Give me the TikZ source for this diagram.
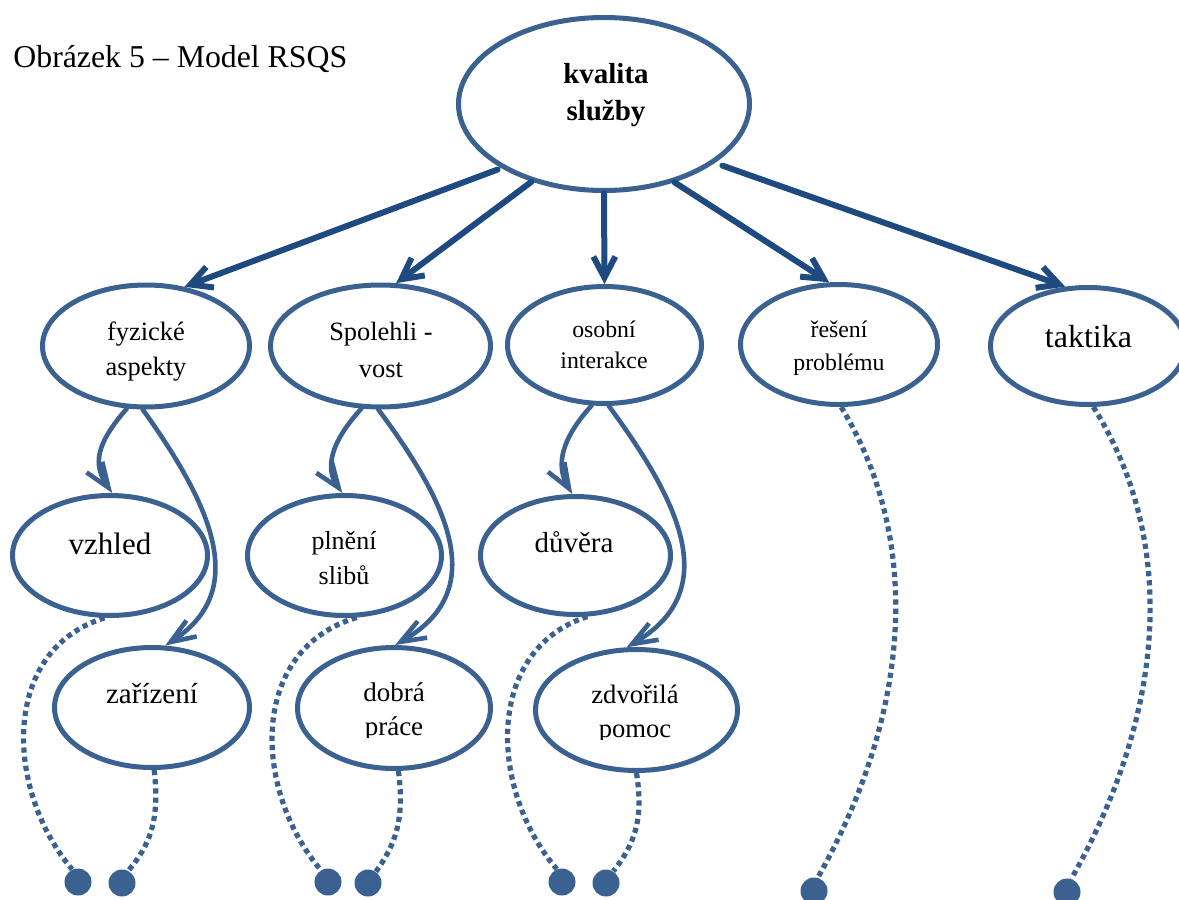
\documentclass[tikz,border=0pt]{standalone}
\usepackage{fontspec}
\setmainfont{Liberation Serif}
\usetikzlibrary{shapes.geometric,arrows.meta}
\definecolor{rim}{HTML}{3B6190}
\definecolor{navy}{HTML}{1F4A80}
\begin{document}
\begin{tikzpicture}[x=0.5pt,y=-0.5pt,
  bubble/.style={ellipse,draw=rim,line width=2.5pt,inner sep=0pt,fill=white},
  txt/.style={anchor=base,align=center,inner sep=0pt,text=black},
  mainarrow/.style={draw=navy,line width=3pt,line cap=round,
    -{Straight Barb[length=10.5pt,width=11pt]}},
  subarrow/.style={draw=rim,line width=2.3pt,line cap=round,
    -{Straight Barb[length=12.5pt,width=9.5pt]}},
  dotline/.style={draw=rim,line width=2.6pt,dash pattern=on 2.6pt off 2pt},
  endpt/.style={circle,fill=rim,inner sep=0pt,minimum size=13.5pt},
]
\useasboundingbox (0,0) rectangle (1179,900);

% heading
\node[anchor=base west,inner sep=0pt,font={\fontsize{15.9}{18}\selectfont}]
  (title) at (13,67) {Obrázek 5 – Model RSQS};

% ellipses
\node[bubble,minimum width=145.5pt,minimum height=86.5pt] (top) at (604,104) {};
\node[bubble,minimum width=103.5pt,minimum height=61pt] (fyz) at (146,346) {};
\node[bubble,minimum width=110pt,minimum height=61pt] (spo) at (380.5,346) {};
\node[bubble,minimum width=97pt,minimum height=58.5pt] (oso) at (604.5,345) {};
\node[bubble,minimum width=98.5pt,minimum height=60pt] (res) at (839,344.5) {};
\node[bubble,minimum width=97.5pt,minimum height=58.5pt] (tak) at (1088,346) {};
\node[bubble,minimum width=97.5pt,minimum height=60pt] (vzh) at (110,555.5) {};
\node[bubble,minimum width=97pt,minimum height=60pt] (pln) at (344.5,555.5) {};
\node[bubble,minimum width=95pt,minimum height=59pt] (duv) at (575.5,555.5) {};
\node[bubble,minimum width=97.5pt,minimum height=60pt] (zar) at (152,707.5) {};
\node[bubble,minimum width=96.5pt,minimum height=60.5pt] (dob) at (394,708) {};
\node[bubble,minimum width=101pt,minimum height=60.5pt] (zdv) at (636.5,710) {};

% labels (two-line labels sit on the baseline of their last line)
\node[txt,font={\bfseries\fontsize{14.5}{18.5}\selectfont}] (ttop) at (606,120) {kvalita\\služby};
\node[txt,font={\fontsize{13.25}{17.5}\selectfont}] (tfyz) at (146,375) {fyzické\\aspekty};
\node[txt,font={\fontsize{13.2}{18.5}\selectfont}] (tspo) at (381,377) {Spolehli -\\vost};
\node[txt,font={\fontsize{11.9}{15.5}\selectfont}] (toso) at (604,368) {osobní\\interakce};
\node[txt,font={\fontsize{11.9}{16.5}\selectfont}] (tres) at (839,370) {řešení\\problému};
\node[txt,font={\fontsize{16}{19}\selectfont}] (ttak) at (1088.5,347) {taktika};
\node[txt,font={\fontsize{15.5}{19}\selectfont}] (tvzh) at (110,554) {vzhled};
\node[txt,font={\fontsize{13}{17.5}\selectfont}] (tpln) at (344,584) {plnění\\slibů};
\node[txt,font={\fontsize{14.5}{18}\selectfont}] (tduv) at (574,552) {důvěra};
\node[txt,font={\fontsize{14.5}{18}\selectfont}] (tzar) at (152,703) {zařízení};
\begin{scope}
  \clip (290,660) rectangle (500,737.5);
  \node[txt,font={\fontsize{13.5}{17}\selectfont}] (tdob) at (394,735) {dobrá\\práce};
\end{scope}
\begin{scope}
  \clip (530,660) rectangle (745,739.5);
  \node[txt,font={\fontsize{13.3}{17}\selectfont}] (tzdv) at (635,737) {zdvořilá\\pomoc};
\end{scope}

% end points
\node[endpt] (d1) at (78,882) {};
\node[endpt] (d2) at (122,883) {};
\node[endpt] (d3) at (328,882) {};
\node[endpt] (d4) at (368,883) {};
\node[endpt] (d5) at (562,882) {};
\node[endpt] (d6) at (606,883) {};
\node[endpt] (d7) at (814,891) {};
\node[endpt] (d8) at (1067,892) {};

% main arrows
\draw[mainarrow,shorten <=2pt] (top.212) -- (fyz.57);
\draw[mainarrow] (top.227) -- (spo.76);
\draw[mainarrow] (top.270) -- (oso.90);
\draw[mainarrow] (top.312) -- (res.99);
\draw[mainarrow,shorten <=4pt] (top.332) -- (tak.111);

% sub arrows
\draw[subarrow] (fyz.253) .. controls (95,445) and (93,465) .. (vzh.88);
\draw[subarrow] (fyz.267) .. controls (215,510) and (248,592) .. (zar.78);
\draw[subarrow] (spo.253) .. controls (328,445) and (326,470) .. (pln.92);
\draw[subarrow] (spo.268) .. controls (452,508) and (488,592) .. (dob.89);
\draw[subarrow] (oso.258) .. controls (562,438) and (555,465) .. (duv.93);
\draw[subarrow] (oso.274) .. controls (682,505) and (722,592) .. (zdv.99);

% dotted links
\draw[dotline] (vzh.265) .. controls (0,650) and (5,790) .. (d1.115);
\draw[dotline] (zar.272) .. controls (160,820) and (150,845) .. (d2.63);
\draw[dotline] (pln.281) .. controls (248,650) and (253,790) .. (d3.121);
\draw[dotline] (dob.274) .. controls (405,820) and (395,845) .. (d4.55);
\draw[dotline] (duv.281) .. controls (484,650) and (489,790) .. (d5.112);
\draw[dotline] (zdv.270) .. controls (644,820) and (634,845) .. (d6.58);
\draw[dotline] (res.272) .. controls (922,540) and (912,710) .. (d7.74);
\draw[dotline] (tak.275) .. controls (1177,540) and (1167,710) .. (d8.72);
\end{tikzpicture}
\end{document}
